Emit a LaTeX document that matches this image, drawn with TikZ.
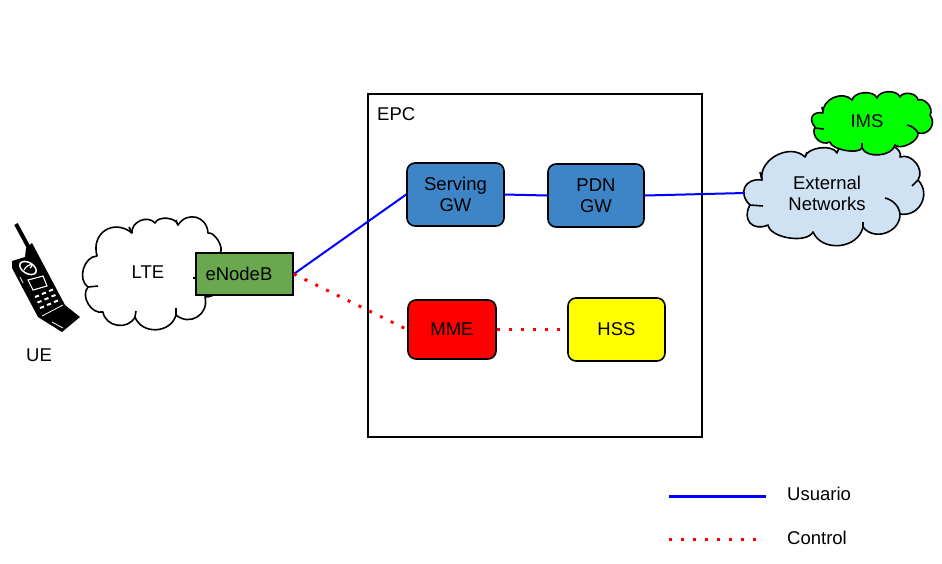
\documentclass[tikz,border=0pt]{standalone}
\usepackage{fontspec}
\setmainfont{Liberation Sans}
\definecolor{extblue}{HTML}{CFE2F3}
\definecolor{imsgreen}{HTML}{00FF00}
\definecolor{gwblue}{HTML}{3D85C6}
\definecolor{enbgreen}{HTML}{6AA84F}
\definecolor{hssyellow}{HTML}{FFFF00}
\definecolor{mmered}{HTML}{FF0000}
\tikzset{
  box/.style={draw,line width=1.6pt,rounded corners=8pt,inner sep=0pt,align=center},
  puff/.style={bend left=72,looseness=#1},
  puff/.default=1.1,
  cloudline/.style={draw=black,line width=1.6pt,line join=round},
  user/.style={draw=blue,line width=2pt},
  ctrl/.style={draw=mmered,line width=3pt,dash pattern=on 3pt off 9pt},
  label/.style={inner sep=0pt,align=center}
}
\begin{document}
\begin{tikzpicture}[x=1pt,y=-1pt,every node/.append style={font=\fontsize{18.5}{21}\selectfont}]
\useasboundingbox (0,0) rectangle (942,563);

% phone
\draw[line width=4pt] (16,224) -- (29,248);
\fill (26,248) -- (32,243) -- (40,258) -- (65,305) -- (80,317) -- (62,332) -- (38,317) -- (12,268) -- (12,261) -- (25,257) -- cycle;
\draw[white,line width=1.5pt] (28,268) ellipse[x radius=9,y radius=5.5,rotate=-30];
\draw[white,line width=1.2pt] (24,270) .. controls (29,262) and (35,264) .. (30,268);
\draw[white,line width=1.1pt] (28,280) -- (43,276) -- (47,286) -- (33,290) -- cycle;
\draw[white,line width=.8pt] (20,277) -- (23,283);
\draw[white,line width=.8pt] (42,316) -- (63,305);
\draw[white,line width=.8pt] (52,322) -- (63,328);
\foreach \row in {0,1,2}
  \foreach \col in {0,1,2}
    \draw[white,line width=2pt] (35+7*\col+2.5*\row,297-3*\col+5.5*\row) -- ++(4,-1.5);
\node[label] (ue) at (39,355) {UE};

% LTE cloud
\draw[cloudline,fill=white] (97,256) to[puff=1.45] (132,233) to[puff=1.15] (155,223) to[puff=.9] (178,225) to[puff=1.4] (208,233) to[puff=.75] (220,253) to[puff] (205,297) to[puff=1.35] (176,315) to[puff=1.2] (135,317) to[puff=1.2] (103,312) to[puff=1.05] (88,287) to[puff=1.05] cycle;
\draw[cloudline] (132,233) -- (129,227);
\draw[cloudline] (178,225) -- (176,220);
\draw[cloudline] (176,315) -- (176,308);
\draw[cloudline] (135,317) -- (136,311);
\draw[cloudline] (88,287) -- (98,286);
\draw[cloudline] (193,278) -- (197,278);
\node[label] (lte) at (148,272) {LTE};

% outer clouds
\draw[cloudline,fill=extblue] (750,205) to[puff=1.6] (762,180) to[puff] (805,157) to[puff=.8] (837,153) to[puff=.8] (893,147) to[puff=.8] (900,157) to[puff=1.1] (918,180) to[puff=1.3] (900,214) to[puff=1.2] (863,227) to[puff=1.15] (813,232) to[puff=.75] (768,225) to[puff=1.6] cycle;
\draw[cloudline] (750,205) -- (763,206);
\draw[cloudline] (762,180) -- (760,172);
\draw[cloudline] (805,157) -- (807,152);
\draw[cloudline] (918,180) -- (912,186);
\draw[cloudline] (885,198) .. controls (893,200) and (899,206) .. (900,214);
\draw[cloudline] (863,227) -- (863,222);
\draw[cloudline,fill=imsgreen] (815,127) to[puff=1.7] (823,113) to[puff=1.1] (852,100) to[puff=.9] (877,98) to[puff=.9] (900,97) to[puff=1] (918,100) to[puff=1] (930,115) to[puff=1.3] (918,133) to[puff=.8] (895,145) to[puff=.9] (862,148) to[puff=.6] (830,142) to[puff=1.2] cycle;
\draw[cloudline] (815,128) -- (824,129);
\draw[cloudline] (823,113) -- (822,107);
\draw[cloudline] (907,125) .. controls (912,126) and (916,129) .. (918,133);
\draw[cloudline] (862,148) -- (862,143);
\node[label,minimum width=164pt] (ext) at (827,193) {External\\Networks};
\node[label] (ims) at (867,121) {IMS};

% EPC
\node[draw,line width=1.6pt,inner sep=0pt,minimum width=334pt,minimum height=343pt] (epc) at (535,265.5) {};
\node[label,anchor=west] (epctext) at (377,114) {EPC};
\node[box,fill=gwblue,minimum width=97pt,minimum height=63pt] (sgw) at (455.5,194.5) {Serving\\GW};
\node[box,fill=gwblue,minimum width=96pt,minimum height=63pt] (pgw) at (596,195.5) {PDN\\GW};
\node[box,fill=mmered,minimum width=88pt,minimum height=59pt] (mme) at (452,329.5) {MME};
\node[box,fill=hssyellow,minimum width=97pt,minimum height=63pt] (hss) at (616.5,329.5) {HSS};
\node[draw,line width=1.6pt,fill=enbgreen,inner sep=0pt,text width=78pt,align=left,minimum width=97pt,minimum height=42pt] (enb) at (244.5,274) {eNodeB};

% links
\draw[user] (enb.east) -- (sgw.west);
\draw[user] (sgw.east) -- (pgw.west);
\draw[user] (pgw.east) -- (ext.west);
\draw[ctrl] (enb.east) -- (mme.west);
\draw[ctrl] (mme.east) -- (hss.west);

% legend
\coordinate (ua) at (669,496);
\coordinate (ub) at (766,496);
\coordinate (ca) at (669,539);
\coordinate (cb) at (758,539);
\draw[user,line width=3pt] (ua) -- (ub);
\draw[ctrl] (ca) -- (cb);
\node[label,anchor=west] (usuario) at (787,494) {Usuario};
\node[label,anchor=west] (control) at (787,538) {Control};
\end{tikzpicture}
\end{document}
